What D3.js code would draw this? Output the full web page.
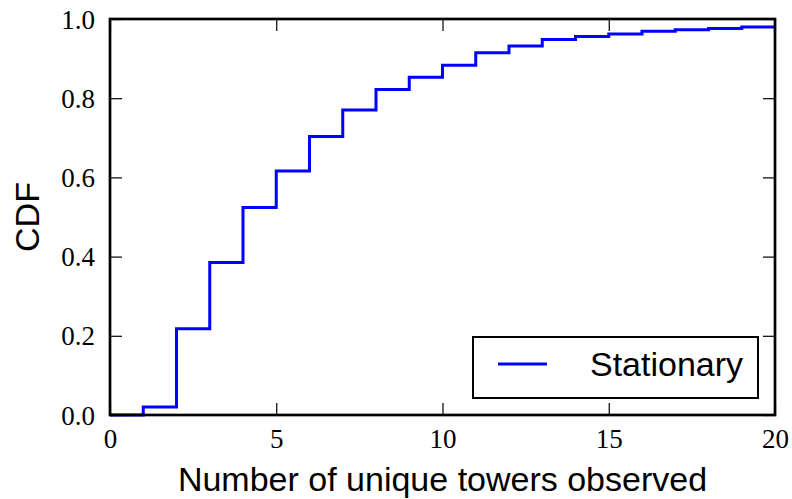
<!DOCTYPE html>
<html>
<head>
<meta charset="utf-8">
<script src="https://cdn.jsdelivr.net/npm/d3@7"></script>
<style>
  html, body { margin: 0; padding: 0; background: #fff; }
  svg { display: block; }
</style>
</head>
<body>
<svg id="chart" width="792" height="499"></svg>
<script>
// Number of unique towers observed and the cumulative fraction at each count
const towers = [0, 1, 2, 3, 4, 5, 6, 7, 8, 9, 10, 11, 12, 13, 14, 15, 16, 17, 18, 19, 20];
const cdfStationary = [0.0, 0.02, 0.218, 0.385, 0.524, 0.616, 0.703, 0.770, 0.822, 0.853, 0.883, 0.915, 0.932, 0.948, 0.956, 0.962, 0.969, 0.973, 0.976, 0.980, 0.980];
const xTicks = [0, 5, 10, 15, 20];
const yTicks = [0.0, 0.2, 0.4, 0.6, 0.8, 1.0];
const seriesName = "Stationary";

const svg = d3.select("#chart");
const margin = { left: 110, right: 17, top: 19, bottom: 84 };
const W = 792, H = 499;

const x = d3.scaleLinear().domain([0, 20]).range([margin.left, W - margin.right]);
const y = d3.scaleLinear().domain([0, 1]).range([H - margin.bottom, margin.top]);

const tickFont = "'Liberation Serif', 'DejaVu Serif', serif";
const labelFont = "'Liberation Sans', Arial, sans-serif";
const tickLen = 12;

// Step line (post-step CDF)
const data = towers.map((t, i) => ({ t, v: cdfStationary[i] }));
const line = d3.line()
  .x(d => x(d.t))
  .y(d => y(d.v))
  .curve(d3.curveStepAfter);

svg.append("defs").append("clipPath").attr("id", "plotClip")
  .append("rect")
  .attr("x", x(0)).attr("y", y(1) - 4)
  .attr("width", x(20) - x(0)).attr("height", y(0) - y(1) + 8);

svg.append("path")
  .datum(data)
  .attr("clip-path", "url(#plotClip)")
  .attr("fill", "none")
  .attr("stroke", "#0000ff")
  .attr("stroke-width", 3)
  .attr("d", line);

// Axes: ticks point inward on all four sides
const bottomAxis = d3.axisBottom(x).tickValues(xTicks).tickSize(-tickLen).tickSizeOuter(0)
  .tickFormat(d3.format("d"));
const topAxis = d3.axisTop(x).tickValues(xTicks).tickSize(-tickLen).tickSizeOuter(0)
  .tickFormat("");
const leftAxis = d3.axisLeft(y).tickValues(yTicks).tickSize(-tickLen).tickSizeOuter(0)
  .tickFormat(d3.format(".1f"));
const rightAxis = d3.axisRight(y).tickValues(yTicks).tickSize(-tickLen).tickSizeOuter(0)
  .tickFormat("");

function styleAxis(g) {
  g.select(".domain").remove();
  g.selectAll(".tick line").attr("stroke", "#000").attr("stroke-width", 1.2);
  g.selectAll(".tick text")
    .attr("fill", "#000")
    .style("font-family", tickFont)
    .style("font-size", "27px");
}

svg.append("g").attr("transform", `translate(0,${y(0)})`).call(bottomAxis).call(styleAxis)
  .selectAll(".tick text").attr("dy", null).attr("y", 33);
svg.append("g").attr("transform", `translate(0,${y(1)})`).call(topAxis).call(styleAxis);
svg.append("g").attr("transform", `translate(${x(0)},0)`).call(leftAxis).call(styleAxis)
  .selectAll(".tick text").attr("x", -15).attr("dy", "0.34em");
svg.append("g").attr("transform", `translate(${x(20)},0)`).call(rightAxis).call(styleAxis);

// Frame
svg.append("rect")
  .attr("x", x(0)).attr("y", y(1))
  .attr("width", x(20) - x(0)).attr("height", y(0) - y(1))
  .attr("fill", "none")
  .attr("stroke", "#000")
  .attr("stroke-width", 2.7);

// Axis titles
svg.append("text")
  .attr("x", (x(0) + x(20)) / 2 + 0)
  .attr("y", 491)
  .attr("text-anchor", "middle")
  .style("font-family", labelFont)
  .style("font-size", "34px")
  .text("Number of unique towers observed");

svg.append("text")
  .attr("transform", `translate(39,${(y(0) + y(1)) / 2}) rotate(-90)`)
  .attr("text-anchor", "middle")
  .style("font-family", labelFont)
  .style("font-size", "34px")
  .text("CDF");

// Legend
const legend = svg.append("g");
legend.append("rect")
  .attr("x", 473).attr("y", 337)
  .attr("width", 285).attr("height", 61)
  .attr("fill", "#fff")
  .attr("stroke", "#000")
  .attr("stroke-width", 2);
legend.append("line")
  .attr("x1", 498).attr("x2", 547)
  .attr("y1", 364).attr("y2", 364)
  .attr("stroke", "#0000ff")
  .attr("stroke-width", 3);
legend.append("text")
  .attr("x", 590).attr("y", 376)
  .style("font-family", labelFont)
  .style("font-size", "34px")
  .text(seriesName);
</script>
</body>
</html>
